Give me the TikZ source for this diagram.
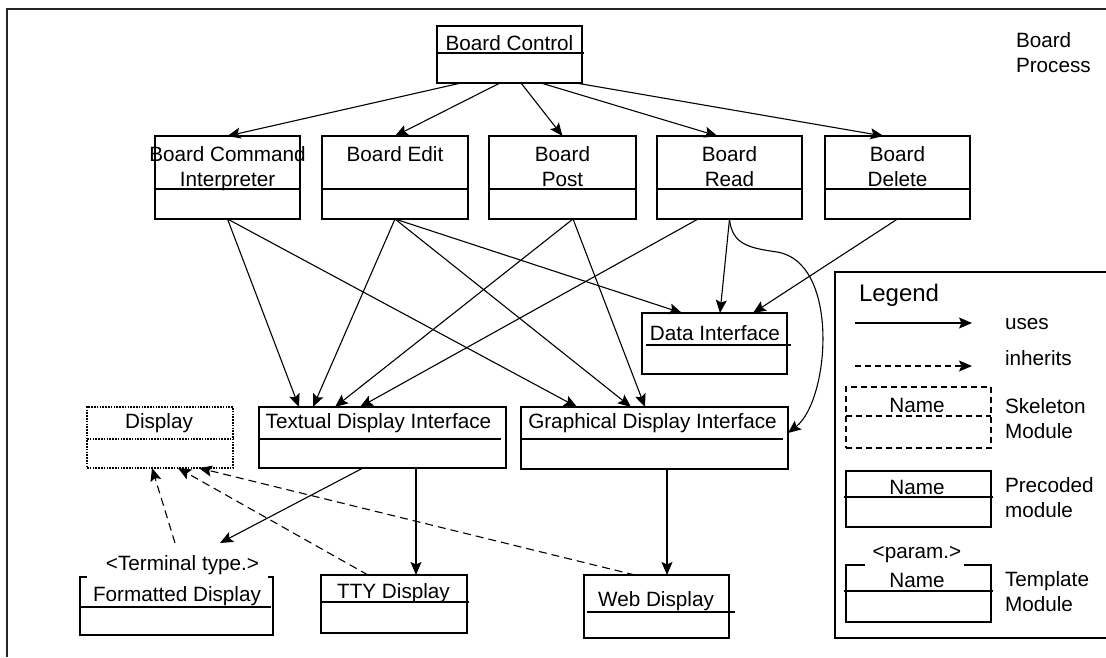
\documentclass[tikz,border=0pt]{standalone}
\usepackage{fontspec}
\setmainfont{Liberation Sans}
\usetikzlibrary{arrows.meta}

% box of a module: #1 style, #2 name, #3 left, #4 right, #5 top, #6 bottom,
% #7 divider y, #8/#9 divider ends
\newcommand\umlmod[9]{%
  \node[#1, minimum width={(#4-#3)*1pt}, minimum height={(#6-#5)*1pt}]
    (#2) at ({(#3+#4)/2},{(#5+#6)/2}) {};
  \draw[#1] (#8,#7) -- (#9,#7);}

\begin{document}
\begin{tikzpicture}[x=1pt,y=-1pt,
  every node/.style={inner sep=0pt,outer sep=0pt},
  txt/.style={font=\fontsize{20.7}{25}\selectfont, anchor=base},
  ltxt/.style={txt, anchor=base west},
  frame/.style={draw=black!85, line width=1.3pt},
  module/.style={draw, line width=1.4pt},
  topmod/.style={draw, line width=2pt},
  skeleton/.style={draw, line width=1.4pt, dash pattern=on 6pt off 4pt},
  dotmod/.style={draw, line width=1.6pt, dash pattern=on 1.6pt off 1.2pt},
  tmpl/.style={draw=none},
  tip/.style={-{Stealth[length=13pt,width=11pt,inset=2.5pt]}},
  uses/.style={draw, line width=1.1pt, tip},
  inherits/.style={draw, line width=1.1pt, tip, dash pattern=on 8pt off 5pt},
]
\useasboundingbox (0,0) rectangle (1106,657);

% surrounding frame
\draw[frame] (7,657) -- (7,9) -- (1106,9);

% ---- controller ----
\umlmod{module}{bc}{437}{582}{26}{83}{53}{437}{584}
\node[txt] (bct) at (509.5,50) {Board Control};
\node[ltxt] (bp1) at (1016,47) {Board};
\node[ltxt] (bp2) at (1016,72) {Process};

% ---- board operations ----
\umlmod{topmod}{bci}{155}{300}{136}{219}{189}{155}{300}
\node[txt] (bci1) at (227.5,161) {Board Command};
\node[txt] (bci2) at (227.5,186) {Interpreter};
\umlmod{topmod}{bed}{322}{468}{136}{219}{189}{322}{468}
\node[txt] (bed1) at (395,161) {Board Edit};
\umlmod{topmod}{bpo}{489}{636}{136}{219}{189}{489}{636}
\node[txt] (bpo1) at (562.5,161) {Board};
\node[txt] (bpo2) at (562.5,186) {Post};
\umlmod{topmod}{brd}{657}{802}{136}{219}{189}{657}{802}
\node[txt] (brd1) at (729.5,161) {Board};
\node[txt] (brd2) at (729.5,186) {Read};
\umlmod{topmod}{bde}{825}{970}{136}{219}{189}{825}{970}
\node[txt] (bde1) at (897.5,161) {Board};
\node[txt] (bde2) at (897.5,186) {Delete};

% ---- interfaces ----
\umlmod{module}{di}{642}{787}{313}{374}{345}{646}{791}
\node[txt] (dit) at (715,340) {Data Interface};
\umlmod{dotmod}{disp}{87}{233}{407}{468}{439}{87}{235}
\node[txt] (dispt) at (159,428) {Display};
\umlmod{module}{tdi}{259}{506}{407}{468}{439}{259}{501}
\node[txt] (tdit) at (378.5,428) {Textual Display Interface};
\umlmod{module}{gdi}{521}{788}{407}{469}{439}{521}{783}
\node[txt] (gdit) at (652.5,428) {Graphical Display Interface};

% ---- displays ----
\umlmod{tmpl}{fd}{80}{273}{577}{635}{607}{80}{271}
\draw[module] ([xshift=7pt]fd.north west) -- (fd.north west) -- (fd.south west)
  -- (fd.south east) -- (fd.north east) -- ([xshift=-5pt]fd.north east);
\draw[module] (80,607) -- (271,607);
\node[txt] (fdp) at (182.5,570) {<Terminal type.>};
\node[txt] (fdt) at (177,601) {Formatted Display};
\umlmod{module}{tty}{321}{467}{575}{633}{602}{320}{469}
\node[txt] (ttyt) at (393.5,598) {TTY Display};
\umlmod{module}{web}{584}{729}{575}{638}{612}{587}{735}
\node[txt] (webt) at (656,606) {Web Display};

% ---- uses: controller to operations ----
\draw[uses] ([xshift=24pt]bc.south west) -- (bci.north);
\draw[uses] ([xshift=63pt]bc.south west) -- (bed.north);
\draw[uses] ([xshift=84pt]bc.south west) -- (bpo.north);
\draw[uses] ([xshift=104pt]bc.south west) -- ([xshift=-12pt]brd.north);
\draw[uses] ([xshift=139pt]bc.south west) -- ([xshift=-14pt]bde.north);

% ---- uses: operations to interfaces ----
\draw[uses] (bci.south) -- ([xshift=40pt]tdi.north west);
\draw[uses] (bci.south) -- ([xshift=56pt]gdi.north west);
\draw[uses] (bed.south) -- ([xshift=54pt]tdi.north west);
\draw[uses] (bed.south) -- ([xshift=110pt]gdi.north west);
\draw[uses] (bed.south) -- ([xshift=40pt]di.north west);
\draw[uses] ([xshift=84pt]bpo.south west) -- ([xshift=76pt]tdi.north west);
\draw[uses] ([xshift=84pt]bpo.south west) -- ([xshift=124pt]gdi.north west);
\draw[uses] ([xshift=41pt]brd.south west) -- ([xshift=101pt]tdi.north west);
\draw[uses] (brd.south) -- ([xshift=5.5pt]di.north);
\draw[uses] (brd.south) .. controls (732,245) and (750,248) .. (777,252)
  .. controls (840,262) and (830,400) .. ([yshift=5pt]gdi.east);
\draw[uses] (bde.south) -- ([xshift=111pt]di.north west);

% ---- uses: interfaces to displays ----
\draw[uses] ([xshift=104pt]tdi.south west) -- ([xshift=37.5pt,yshift=12pt]fdp.north);
\draw[uses] ([xshift=157pt]tdi.south west) -- ([xshift=95pt]tty.north west);
\draw[uses] ([xshift=146pt]gdi.south west) -- ([xshift=83pt]web.north west);

% ---- inherits ----
\draw[inherits] ([xshift=-7.5pt,yshift=12pt]fdp.north) -- ([xshift=65pt]disp.south west);
\draw[inherits] ([xshift=47pt]tty.north west) -- ([xshift=91pt]disp.south west);
\draw[inherits] ([xshift=51pt]web.north west) -- ([xshift=112pt]disp.south west);

% ---- legend ----
\draw[module] (1110,272) -- (835,272) -- (835,638) -- (1110,638);
\node[ltxt, font=\fontsize{24}{28}\selectfont] (lg) at (859,301) {Legend};
\coordinate (u1) at (855,323);
\coordinate (u2) at (972,323);
\draw[uses] (u1) -- (u2);
\node[ltxt] (lu) at (1005,329) {uses};
\coordinate (i1) at (855,366);
\coordinate (i2) at (972,366);
\draw[uses, dash pattern=on 6pt off 4pt] (i1) -- (i2);
\node[ltxt] (li) at (1005,365) {inherits};

\umlmod{skeleton}{lsk}{846}{991}{387}{448}{416}{846}{991}
\node[txt] (lskn) at (917,412) {Name};
\node[ltxt] (lsk1) at (1005,413) {Skeleton};
\node[ltxt] (lsk2) at (1005,438) {Module};

\umlmod{module}{lpc}{846}{991}{471}{527}{497}{844}{993}
\node[txt] (lpcn) at (917,494) {Name};
\node[ltxt] (lpc1) at (1005,492) {Precoded};
\node[ltxt] (lpc2) at (1005,517) {module};

\umlmod{tmpl}{ltp}{846}{991}{565}{622}{591}{844}{993}
\draw[module] ([xshift=19pt]ltp.north west) -- (ltp.north west) -- (ltp.south west)
  -- (ltp.south east) -- (ltp.north east) -- ([xshift=-27pt]ltp.north east);
\draw[module] (844,591) -- (993,591);
\node[txt] (ltpp) at (917,558) {<param.>};
\node[txt] (ltpn) at (917,587) {Name};
\node[ltxt] (ltp1) at (1005,586) {Template};
\node[ltxt] (ltp2) at (1005,611) {Module};
\end{tikzpicture}
\end{document}
